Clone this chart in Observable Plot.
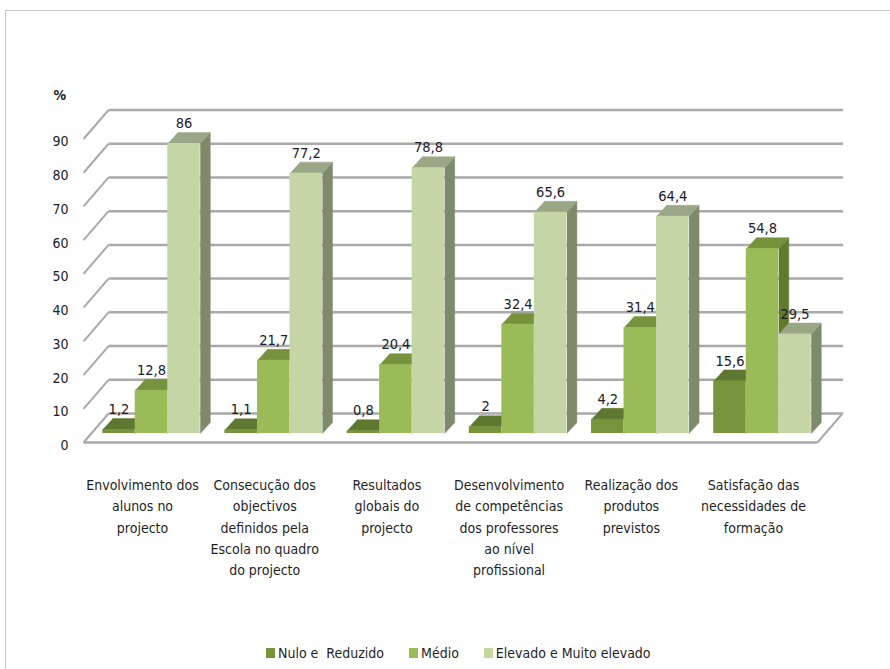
<!DOCTYPE html>
<html>
<head>
<meta charset="utf-8">
<script src="https://cdn.jsdelivr.net/npm/d3@7"></script>
<script src="https://cdn.jsdelivr.net/npm/@observablehq/plot@0.6"></script>
<style>
  html, body { margin: 0; padding: 0; background: #fff; }
  #wrap { position: relative; width: 890px; height: 669px; overflow: hidden;
          font-family: "Liberation Sans Narrow", "DejaVu Sans Condensed", "Open Sans", sans-serif; }
  #frame { position: absolute; left: 5px; top: 9.5px; right: -5px; bottom: -5px;
           border-top: 1.5px solid #c8c8c8; border-left: 1.5px solid #c8c8c8; pointer-events: none; }
  #legend { position: absolute; left: 266px; top: 645px; display: flex; align-items: center;
            font-size: 14px; color: #1f1f1f; white-space: pre; }
  #legend .item { display: flex; align-items: center; margin-right: 25px; }
  #legend .sw { width: 9px; height: 10px; margin-right: 3px; }
</style>
</head>
<body>
<div id="wrap">
  <div id="chart"></div>
  <div id="legend"></div>
  <div id="frame"></div>
</div>
<script>
// ---- data ----
const categories = [
  "Envolvimento dos\nalunos no\nprojecto",
  "Consecução dos\nobjectivos\ndefinidos pela\nEscola no quadro\ndo projecto",
  "Resultados\nglobais do\nprojecto",
  "Desenvolvimento\nde competências\ndos professores\nao nível\nprofissional",
  "Realização dos\nprodutos\nprevistos",
  "Satisfação das\nnecessidades de\nformação"
];
const seriesNames = ["Nulo e  Reduzido", "Médio", "Elevado e Muito elevado"];
const nulo    = [1.2, 1.1, 0.8, 2, 4.2, 15.6];
const medio   = [12.8, 21.7, 20.4, 32.4, 31.4, 54.8];
const elevado = [86, 77.2, 78.8, 65.6, 64.4, 29.5];
const yTicks  = [0, 10, 20, 30, 40, 50, 60, 70, 80, 90];

// ---- styles ----
const frontColors = ["#77943d", "#9bbb59", "#c4d6a6"];
const topColors   = ["#5f7831", "#77923c", "#9aa787"];
const sideColors  = ["#4f6228", "#5f7a2e", "#7f8a6b"];
const legendColors = ["#77933c", "#9bbb59", "#c3d69b"];

// geometry (in scale units)
const BAR_W = 0.266;           // bar width in category units
const DX = 0.082, DY = 3.26;   // bar depth
const WALL_L = -0.556, WALL_R = 5.45;   // floor front edge extent
const WDX = 0.2046;            // wall depth (x)
const FRONT_Y = -2.67, BACK_Y = 5.93;   // front / back plane offsets (y)

const seriesValues = [nulo, medio, elevado];
const rows = [];
categories.forEach((c, i) => {
  seriesValues.forEach((vals, s) => {
    const x0 = i + (s - 1) * BAR_W - BAR_W / 2;
    rows.push({id: `${i}-${s}`, i, s, v: vals[i], x0, x1: x0 + BAR_W});
  });
});
const poly = (r, pts) => pts.map(([x, y]) => ({id: r.id, s: r.s, x, y}));
const topPts = rows.flatMap(r => poly(r, [[r.x0, r.v], [r.x1, r.v], [r.x1 + DX, r.v + DY], [r.x0 + DX, r.v + DY]]));
const sidePts = rows.flatMap(r => poly(r, [[r.x1, 0], [r.x1 + DX, DY], [r.x1 + DX, r.v + DY], [r.x1, r.v]]));
const fmt = v => String(v).replace(".", ",");

const gridColor = "#a9a9a9";
const marks = [
  // back wall gridlines
  Plot.link(yTicks, {x1: WALL_L + WDX, x2: WALL_R + WDX + 0.005, y1: d => d + BACK_Y, y2: d => d + BACK_Y, stroke: gridColor, strokeWidth: 2.5}),
  // side wall lines
  Plot.link(yTicks, {x1: WALL_L, y1: d => d + FRONT_Y, x2: WALL_L + WDX, y2: d => d + BACK_Y, stroke: gridColor, strokeWidth: 2}),
  // floor front and right edges
  Plot.link([0], {x1: WALL_L, x2: WALL_R, y1: d => d + FRONT_Y, y2: d => d + FRONT_Y, stroke: gridColor, strokeWidth: 2.5}),
  Plot.link([0], {x1: WALL_R, y1: d => d + FRONT_Y, x2: WALL_R + WDX, y2: d => d + BACK_Y, stroke: gridColor, strokeWidth: 2}),
];
[0, 1, 2].forEach(s => {
  marks.push(
    Plot.line(sidePts.filter(d => d.s === s), {x: "x", y: "y", z: "id", fill: sideColors[s], stroke: sideColors[s], strokeWidth: 0.5}),
    Plot.line(topPts.filter(d => d.s === s), {x: "x", y: "y", z: "id", fill: topColors[s], stroke: topColors[s], strokeWidth: 0.5}),
    Plot.rect(rows.filter(d => d.s === s), {x1: "x0", x2: "x1", y1: 0, y2: "v", fill: frontColors[s]})
  );
});
marks.push(
  Plot.text(rows, {x: r => (r.x0 + r.x1) / 2, y: "v", dy: -20, text: r => fmt(r.v), fontSize: 14.5, fill: "#1a1a2a"}),
  Plot.axisY(yTicks, {tickSize: 0, tickPadding: 2, dy: 12, fontSize: 14, fill: "#1a1a2a", label: null}),
  Plot.text(["%"], {frameAnchor: "top-left", dx: -17, dy: 70, text: d => d, fontSize: 14, fontWeight: "bold", fill: "#1a1a2a"}),
  Plot.text(categories, {x: (d, i) => i, y: 0, dx: -9, dy: 41, text: d => d, lineAnchor: "top", lineHeight: 1.53, fontSize: 14, fill: "#1f1f1f"})
);

const chart = Plot.plot({
  width: 890,
  height: 630,
  marginLeft: 70,
  marginTop: 20,
  marginBottom: 10,
  marginRight: 6,
  style: {fontFamily: "'Liberation Sans Narrow', 'DejaVu Sans Condensed', 'Open Sans', sans-serif", background: "transparent", overflow: "visible"},
  x: {domain: [-1, 6], range: [28.8, 884.2], axis: null},
  y: {domain: [0, 90], range: [433, 129.5]},
  marks
});
document.getElementById("chart").appendChild(chart);

// legend
const legend = document.getElementById("legend");
seriesNames.forEach((name, s) => {
  const item = document.createElement("div");
  item.className = "item";
  const sw = document.createElement("span");
  sw.className = "sw";
  sw.style.background = legendColors[s];
  const t = document.createElement("span");
  t.textContent = name;
  item.appendChild(sw);
  item.appendChild(t);
  legend.appendChild(item);
});
</script>
</body>
</html>
